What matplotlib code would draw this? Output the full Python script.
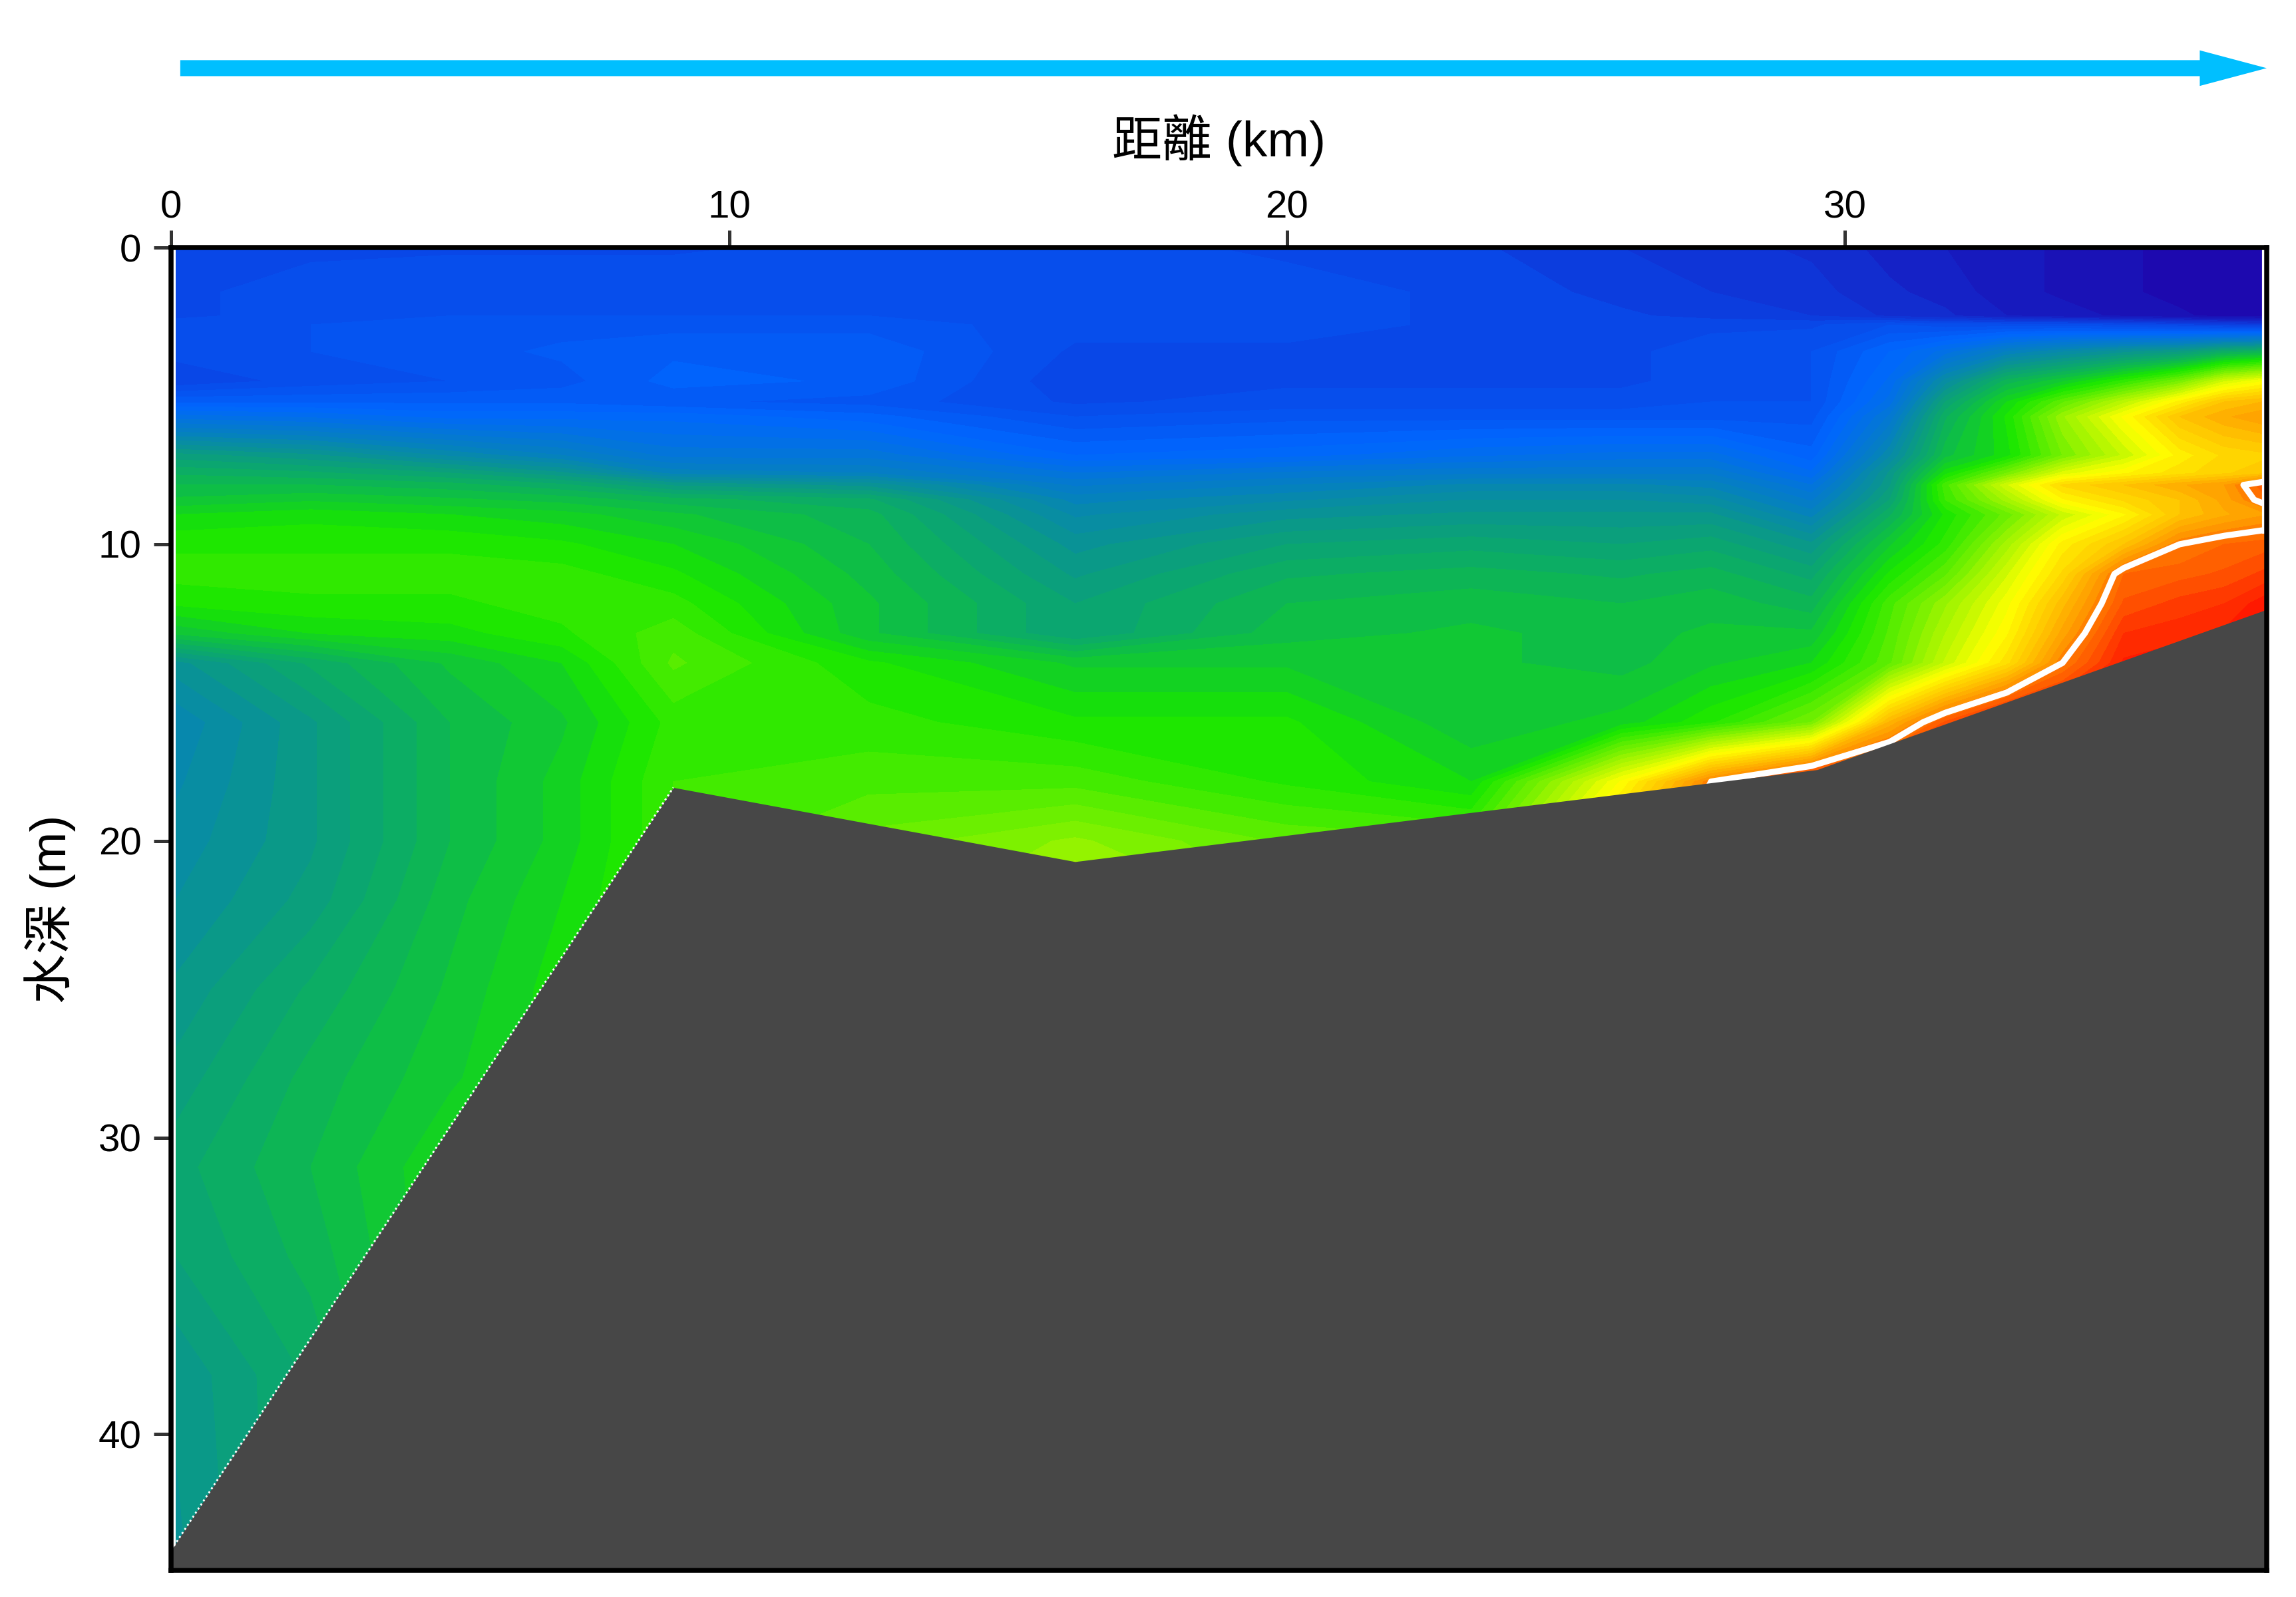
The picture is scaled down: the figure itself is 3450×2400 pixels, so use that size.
import matplotlib
matplotlib.use('Agg')
import matplotlib.pyplot as plt
import numpy as np
from matplotlib.colors import LinearSegmentedColormap

plt.rcParams['font.family'] = ['Liberation Sans', 'Noto Sans CJK TC']

# depth rows (m) and seabed outline
depths = [0, 1.5, 2.3, 2.6, 3.5, 4.5, 5.2, 5.7, 7, 7.6, 8, 8.5, 9, 10, 11, 12, 13, 14,
          16, 18, 20, 22, 25, 28, 31, 34, 38, 46]
bed_x = [0, 9.0, 16.2, 29.5, 37.56]
bed_z = [43.9, 18.2, 20.7, 17.6, 12.2]

# station positions (km)
stations = [0.08, 2.5, 5, 7, 9, 12.5, 16.2, 20, 23.3, 26, 27.6, 29.4, 30.8, 31.8, 32.9, 33.9, 35, 36, 36.8, 37.6]

s00 = [13, 13, 13, 14, 14, 12, 18, 24, 39, 43, 45, 47, 50, 53, 54, 52, 47, 36, 32, 33, 34, 35, 37, 39, 41, 40, 37, 36]
s01 = [13, 14, 14, 15, 15, 14, 18, 23, 37, 42, 45, 48, 51, 53, 54, 53, 50, 42, 38, 38, 38, 39, 42, 44, 45, 44, 42]
s02 = [13, 15, 15, 16, 16, 15, 18, 21, 33, 40, 44, 47, 50, 53, 54, 53, 51, 47, 45, 45, 45, 46, 47, 48, 50]
s03 = [13, 15, 15, 16, 17, 16, 18, 21, 30, 37, 42, 46, 49, 52, 54, 54, 53, 50, 48, 49, 49, 50, 51]
s04 = [13, 15, 15, 16, 18, 19, 17, 21, 26, 31, 38, 44, 47, 50, 52, 54, 56, 57, 54, 55]
s05 = [14, 15, 15, 16, 18, 18, 16, 19, 26, 30, 36, 42, 44, 45, 46, 47, 47, 52, 54, 56, 59]
s06 = [14, 14, 14, 14, 13, 12, 13, 15, 20, 25, 28, 31, 33, 36, 38, 40, 40, 48, 52, 56, 62, 66]
s07 = [13, 14, 14, 14, 13, 13, 14, 16, 21, 27, 30, 33, 36, 40, 43, 45, 46, 48, 52, 53, 58, 60]
s08 = [12, 13, 13, 13, 13, 13, 14, 16, 23, 28, 32, 35, 37, 41, 44, 46, 47, 47, 47, 50, 57, 60]
s09 = [10, 11, 12, 13, 13, 13, 14, 16, 24, 28, 32, 35, 37, 40, 43, 45, 46, 46, 49, 72, 80]
s10 = [9, 10, 11, 13, 14, 14, 15, 16, 24, 28, 31, 34, 37, 41, 44, 46, 47, 48, 53, 88, 92]
s11 = [8, 9, 10, 13, 15, 15, 15, 16, 19, 22, 25, 28, 31, 37, 41, 44, 47, 50, 60, 98]
s12 = [6, 7, 8, 15, 20, 22, 24, 27, 33, 37, 38, 40, 43, 48, 52, 56, 57, 58, 82, 100]
s13 = [5, 6, 7, 14, 24, 34, 40, 43, 46, 51, 56, 55, 52, 54, 58, 63, 65, 67, 92, 100]
s14 = [4, 4, 5, 14, 30, 44, 50, 52, 51, 60, 68, 64, 59, 64, 68, 71, 73, 76, 100]
s15 = [3, 3, 4, 14, 33, 48, 58, 63, 60, 69, 77, 73, 67, 74, 77, 81, 84, 88, 100]
s16 = [2, 2, 3, 13, 36, 54, 66, 72, 67, 73, 80, 77, 73, 80, 90, 92, 95, 97, 100]
s17 = [1, 1, 2, 12, 38, 60, 74, 80, 74, 76, 83, 80, 80, 88, 91, 94, 96, 98, 100]
s18 = [0, 0, 1, 11, 42, 68, 80, 83, 77, 78, 85, 84, 83, 90, 92, 95, 97, 100]
s19 = [0, 0, 1, 10, 44, 72, 82, 85, 78, 80, 92, 90, 85, 91, 94, 98, 100]
profiles = [s00, s01, s02, s03, s04, s05, s06, s07, s08, s09, s10, s11, s12, s13, s14, s15, s16, s17, s18, s19]

contour_level = 88

colour_stops = [(0, '#1e05ab'), (12, '#0a45e5'), (20, '#0066ff'), (30, '#0580c0'), (38, '#0a9a85'),
                (45, '#0db850'), (52, '#18e600'), (72, '#ffff00'), (85, '#ff9f00'), (100, '#ff0000')]
cmap = LinearSegmentedColormap.from_list('section', [(v / 100, c) for v, c in colour_stops])

values = np.array([np.pad(p, (0, len(depths) - len(p)), mode='edge') for p in profiles], dtype=float).T

fig = plt.figure(figsize=(11.5, 8), dpi=300)
ax = fig.add_axes([117 / 1568, 1 - 1072 / 1090, (1548 - 117) / 1568, (1072 - 169) / 1090])

ax.contourf(stations, depths, values, levels=np.linspace(0, 100, 61), cmap=cmap, vmin=0, vmax=100, zorder=1)
ax.contour(stations, depths, values, levels=[contour_level], colors='white', linewidths=2.2, zorder=2)

# thin white strip on the right, white specks along the slope
ax.plot([37.5, 37.5], [0, 9.6], color='white', lw=1.0, zorder=2)
ax.fill_between(bed_x, bed_z, 44.6, color='#474747', lw=0, zorder=3)
ax.plot(bed_x[:2], bed_z[:2], color='white', lw=0.7, ls=(0, (1, 1.5)), zorder=4)

ax.set_xlim(0, 37.56)
ax.set_ylim(44.6, 0)
ax.xaxis.tick_top()
ax.xaxis.set_label_position('top')
ax.set_xticks([0, 10, 20, 30])
ax.set_yticks([0, 10, 20, 30, 40])
ax.tick_params(length=6.3, width=1.2, color='#333333', labelsize=14)
ax.tick_params(axis='x', pad=1.5)
ax.tick_params(axis='y', pad=4.5)
for spine in ax.spines.values():
    spine.set_linewidth(1.8)
    spine.set_zorder(6)
ax.set_xlabel('距離 (km)', fontsize=18, labelpad=12.2)
ax.set_ylabel('水深 (m)', fontsize=18, labelpad=8)

# flow direction arrow above the section
ax.arrow(0.16, -6.05, 37.4, 0, width=0.54, head_width=1.2, head_length=1.2, length_includes_head=True,
         color='#00bfff', lw=0, clip_on=False)

fig.savefig('out.png', dpi=300)
